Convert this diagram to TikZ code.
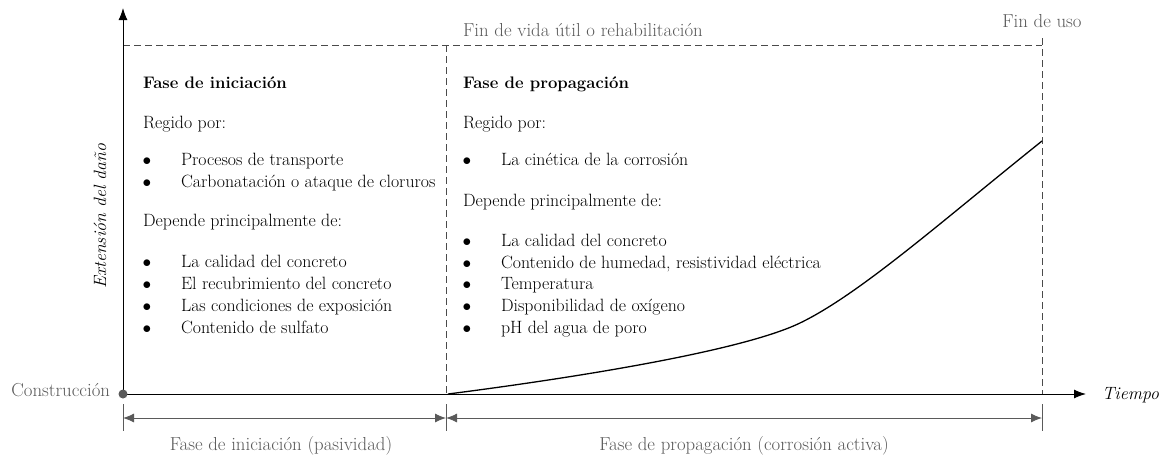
\documentclass[tikz,border=0pt]{standalone}
\usetikzlibrary{arrows.meta}
\definecolor{txtgray}{HTML}{5A5A5A}
\definecolor{dashgray}{HTML}{4A4A4A}
\definecolor{dimgray}{HTML}{5A5A5A}
\begin{document}
\begin{tikzpicture}[x=1pt,y=-1pt,
  every node/.style={inner sep=0pt,outer sep=0pt,font=\fontsize{17.8}{20}\selectfont},
  body/.style={anchor=base west,text=black},
  ttl/.style={anchor=base west,text=black,font=\fontsize{16.7}{20}\selectfont\bfseries},
  bul/.style={anchor=base,text=black},
  gtxt/.style={text=txtgray,font=\fontsize{18.8}{21}\selectfont},
  axis/.style={line width=1pt,black,-{Latex[length=12pt,width=9pt]}},
  guide/.style={dashgray,line width=0.8pt,dash pattern=on 7pt off 4pt},
  dim/.style={dimgray,line width=0.9pt,{Latex[length=11pt,width=9pt]}-{Latex[length=11pt,width=9pt]}},
  tick/.style={dimgray,line width=0.9pt},
  curve/.style={line width=1.3pt,black}]
\useasboundingbox (0,0) rectangle (1161,458);
% key coordinates
\coordinate (O) at (123,394);
\coordinate (Ytop) at (123,8);
\coordinate (Xend) at (1086,394);
\coordinate (P) at (446,394);
\coordinate (E) at (1042,394);
\coordinate (TL) at (123,45);
\coordinate (TP) at (446,45);
\coordinate (TE) at (1042,38);
\coordinate (TEh) at (1042,45);
\coordinate (C0) at (448,394);
\coordinate (C1) at (800,323);
\coordinate (C2) at (1042,141);
% guides
\draw[guide] (TL) -- (TEh);
\draw[guide] (TP) -- (P);
\draw[guide] (TE) -- (E);
% axes
\draw[axis] (O) -- (Ytop);
\draw[axis] (O) -- (Xend);
\fill[txtgray] (O) circle (4.5pt);
% curve
\draw[curve] (C0) .. controls (565,379) and (740,352) .. (C1)
  .. controls (860,294) and (942,221) .. (C2);
% dimension lines
\coordinate (d0t) at (123,404); \coordinate (d0b) at (123,431);
\coordinate (d1t) at (446,404); \coordinate (d1b) at (446,431);
\coordinate (d2t) at (1042,404); \coordinate (d2b) at (1042,431);
\draw[tick] (d0t) -- (d0b);
\draw[tick] (d1t) -- (d1b);
\draw[tick] (d2t) -- (d2b);
\coordinate (a0) at (123,418); \coordinate (a1) at (446,418); \coordinate (a2) at (1042,418);
\draw[dim] (a0) -- (a1);
\draw[dim] (a1) -- (a2);
\node[gtxt,anchor=base] (lab1) at (281,450) {Fase de iniciación (pasividad)};
\node[gtxt,anchor=base] (lab2) at (744,450) {Fase de propagación (corrosión activa)};
% labels
\node[gtxt,anchor=base] (fv) at (583,36) {Fin de vida útil o rehabilitación};
\node[gtxt,anchor=base] (fu) at (1042,27) {Fin de uso};
\node[anchor=base west] (tp) at (1102,399) {\itshape Tiempo};
\node[gtxt,anchor=base east] (con) at (110,396) {Construcción};
\node[rotate=90,anchor=center] (ext) at (100,216) {\itshape Extensión del daño};
% left column
\node[ttl] (l1) at (143,88) {Fase de iniciación};
\node[body] (l2) at (143,128) {Regido por:};
\node[bul] (lb1) at (147,165) {$\bullet$}; \node[body] (li1) at (181,165) {Procesos de transporte};
\node[bul] (lb2) at (147,187) {$\bullet$}; \node[body] (li2) at (181,187) {Carbonatación o ataque de cloruros};
\node[body] (l3) at (143,226) {Depende principalmente de:};
\node[bul] (lb3) at (147,267) {$\bullet$}; \node[body] (li3) at (181,267) {La calidad del concreto};
\node[bul] (lb4) at (147,289) {$\bullet$}; \node[body] (li4) at (181,289) {El recubrimiento del concreto};
\node[bul] (lb5) at (147,311) {$\bullet$}; \node[body] (li5) at (181,311) {Las condiciones de exposición};
\node[bul] (lb6) at (147,333) {$\bullet$}; \node[body] (li6) at (181,333) {Contenido de sulfato};
% right column
\node[ttl] (r1) at (463,88) {Fase de propagación};
\node[body] (r2) at (463,128) {Regido por:};
\node[bul] (rb1) at (467,165) {$\bullet$}; \node[body] (ri1) at (501,165) {La cinética de la corrosión};
\node[body] (r3) at (463,206) {Depende principalmente de:};
\node[bul] (rb2) at (467,246) {$\bullet$}; \node[body] (ri2) at (501,246) {La calidad del concreto};
\node[bul] (rb3) at (467,268) {$\bullet$}; \node[body] (ri3) at (501,268) {Contenido de humedad, resistividad eléctrica};
\node[bul] (rb4) at (467,289) {$\bullet$}; \node[body] (ri4) at (501,289) {Temperatura};
\node[bul] (rb5) at (467,311) {$\bullet$}; \node[body] (ri5) at (501,311) {Disponibilidad de oxígeno};
\node[bul] (rb6) at (467,333) {$\bullet$}; \node[body] (ri6) at (501,333) {pH del agua de poro};
\end{tikzpicture}
\end{document}
